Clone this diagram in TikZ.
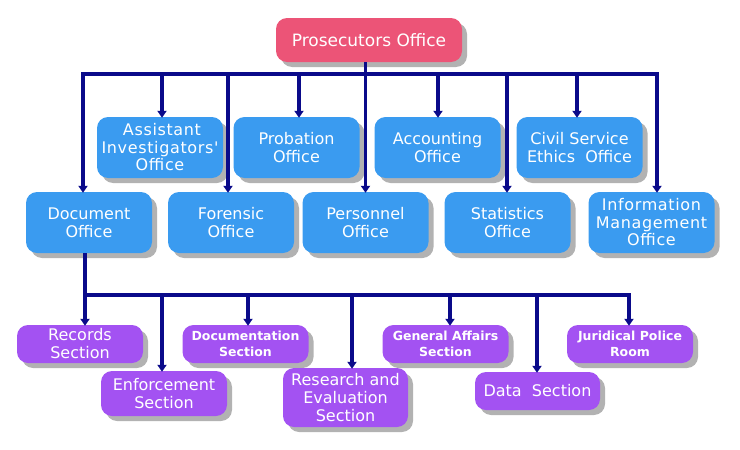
\documentclass[tikz,border=0pt]{standalone}
\usepackage{fontspec}
\setmainfont{DejaVu Sans}[Ligatures=TeXOff]
\usetikzlibrary{shadows,arrows.meta}
\definecolor{pinkbox}{HTML}{EC5477}
\definecolor{bluebox}{HTML}{3A9BF0}
\definecolor{purplebox}{HTML}{A352F2}
\definecolor{navyline}{HTML}{0A0A8A}
\tikzset{
  boxbase/.style={rounded corners=11pt, text=white, align=center, inner sep=0pt,
    drop shadow={shadow xshift=5pt, shadow yshift=-5pt, fill=black, opacity=0.3}},
  topbox/.style={boxbase, fill=pinkbox, minimum width=186pt, minimum height=44pt, font=\fontsize{17}{20}\selectfont},
  officebox/.style={boxbase, fill=bluebox, minimum width=126pt, minimum height=61pt, font=\fontsize{16}{18}\selectfont},
  officewide/.style={officebox, font=\fontsize{16}{17.5}\selectfont\addfontfeature{LetterSpace=4}},
  sectbox/.style={boxbase, fill=purplebox, minimum width=126pt, font=\fontsize{16}{18}\selectfont},
  smallsect/.style={sectbox, font=\bfseries\fontsize{12.5}{15.5}\selectfont},
  link/.style={navyline, line width=3.5pt},
  linkarrow/.style={link, -{Triangle[width=9pt,length=7pt]}, shorten >=-1pt}
}
\begin{document}
\begin{tikzpicture}[x=1pt,y=-1pt]
\useasboundingbox (0,0) rectangle (740,450);
% nodes
\node[topbox] (top) at (369,40) {Prosecutors Office};
\node[officewide] (assist) at (160,147.5) {\hspace*{4pt}Assistant\\Investigators'\\Office};
\node[officebox] (prob) at (296.5,147.5) {Probation\\Office};
\node[officebox] (acct) at (437.5,147.5) {Accounting\\Office};
\node[officebox] (civil) at (579.5,147.5) {Civil Service\\Ethics\ \ Office};
\node[officebox] (doc) at (89,222.5) {Document\\Office};
\node[officebox] (foren) at (231,222.5) {Forensic\\Office};
\node[officebox] (pers) at (365.5,222.5) {Personnel\\Office};
\node[officebox] (stat) at (507.5,222.5) {Statistics\\Office};
\node[officewide] (info) at (651.5,222.5) {Information\\Management\\Office};
\node[sectbox, minimum height=38pt] (rec) at (80,344) {Records\\Section};
\node[smallsect, minimum height=38pt] (docu) at (245.5,344) {Documentation\\Section};
\node[smallsect, minimum height=38pt] (gen) at (445.5,344) {General Affairs\\Section};
\node[smallsect, minimum height=38pt] (jur) at (630,344) {Juridical Police\\Room};
\node[sectbox, minimum height=45pt] (enf) at (164,393.5) {Enforcement\\Section};
\node[sectbox, minimum height=59pt, minimum width=125pt] (res) at (345.5,397.5) {Research and\\Evaluation\\Section};
\node[sectbox, minimum height=38pt, minimum width=125pt] (data) at (537.5,391) {Data\ \ Section};
% upper connectors
\coordinate (barL) at (83,74);
\coordinate (barR) at (657,74);
\draw[link, line cap=rect] (barL) -- (barR);
\draw[linkarrow] (top.south -| pers.north) -- (pers.north);
\draw[linkarrow] (barL) -- (barL |- doc.north);
\draw[linkarrow] (162,74) -- (162,0 |- assist.north);
\draw[linkarrow] (228,74) -- (228,0 |- foren.north);
\draw[linkarrow] (299,74) -- (299,0 |- prob.north);
\draw[linkarrow] (438,74) -- (438,0 |- acct.north);
\draw[linkarrow] (507,74) -- (507,0 |- stat.north);
\draw[linkarrow] (577,74) -- (577,0 |- civil.north);
\draw[linkarrow] (barR) -- (barR |- info.north);
% lower connectors
\coordinate (lbarL) at (85,295);
\coordinate (lbarR) at (629,295);
\draw[link] (85,0 |- doc.south) -- (lbarL);
\draw[link, line cap=rect] (lbarL) -- (lbarR);
\draw[linkarrow] (lbarL) -- (lbarL |- rec.north);
\draw[linkarrow] (162,295) -- (162,0 |- enf.north);
\draw[linkarrow] (248,295) -- (248,0 |- docu.north);
\draw[linkarrow] (352,295) -- (352,0 |- res.north);
\draw[linkarrow] (450,295) -- (450,0 |- gen.north);
\draw[linkarrow] (537,295) -- (537,0 |- data.north);
\draw[linkarrow] (lbarR) -- (lbarR |- jur.north);
\end{tikzpicture}
\end{document}
